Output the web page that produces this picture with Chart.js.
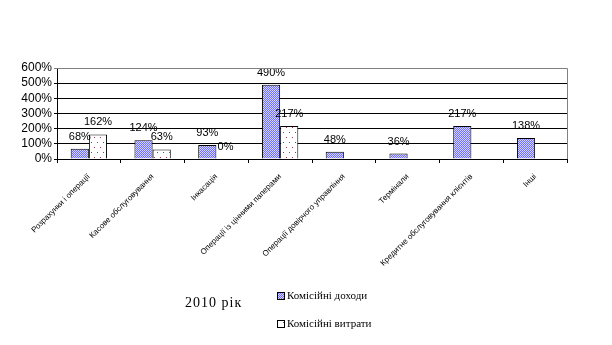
<!DOCTYPE html>
<html>
<head>
<meta charset="utf-8">
<script src="https://cdn.jsdelivr.net/npm/chart.js@4.4.1/dist/chart.umd.min.js"></script>
<style>
  html, body { margin: 0; padding: 0; background: #ffffff; }
  #wrap { position: relative; width: 612px; height: 345px; }
</style>
</head>
<body>
<div id="wrap"><canvas id="c" width="612" height="345"></canvas></div>
<script>
// Commission income vs. commission expenses by banking service, 2010
const categories = [
  'Розрахунки і операції',
  'Касове обслуговування',
  'Інкасація',
  'Операції із цінними паперами',
  'Операції довірчого управління',
  'Термінали',
  'Кредитне обслуговування клієнтів',
  'Інші'
];
const incomeValues  = [68, 124, 93, 490, 48, 36, 217, 138];
const expenseValues = [162, 63, 0, 217, null, null, null, null];
const seriesNames = ['Комісійні доходи', 'Комісійні витрати'];
const yearLabel = '2010 рік';
const yTicks = [0, 100, 200, 300, 400, 500, 600];

// Fill patterns: fine blue checker for income, dotted white for expenses
function checkerPattern() {
  const p = document.createElement('canvas');
  p.width = 2; p.height = 2;
  const g = p.getContext('2d');
  g.fillStyle = '#7070ff'; g.fillRect(0, 0, 2, 2);
  g.fillStyle = '#d4d4ff'; g.fillRect(0, 0, 1, 1); g.fillRect(1, 1, 1, 1);
  return g.createPattern(p, 'repeat');
}
function dotPattern() {
  const p = document.createElement('canvas');
  p.width = 6; p.height = 10;
  const g = p.getContext('2d');
  g.fillStyle = '#ffffff'; g.fillRect(0, 0, 6, 10);
  g.fillStyle = '#a03060'; g.fillRect(1, 2, 1, 1); g.fillRect(4, 7, 1, 1);
  return g.createPattern(p, 'repeat');
}
const incomeFill = checkerPattern();
const expenseFill = dotPattern();

// Percent labels above each bar
const valueLabels = {
  id: 'valueLabels',
  afterDatasetsDraw(chart) {
    const ctx = chart.ctx;
    ctx.save();
    ctx.font = '11px "Liberation Sans", Arial, sans-serif';
    ctx.fillStyle = '#000';
    ctx.textAlign = 'center';
    ctx.textBaseline = 'middle';
    chart.data.datasets.forEach((ds, i) => {
      chart.getDatasetMeta(i).data.forEach((bar, j) => {
        const v = ds.data[j];
        if (v === null || v === undefined) return;
        ctx.fillText(v + '%', bar.x, bar.y - 12);
      });
    });
    ctx.restore();
  }
};

// Grey frame on top/right of plot area, plus year caption and legend
const frameAndLegend = {
  id: 'frameAndLegend',
  afterDraw(chart) {
    const ctx = chart.ctx;
    const a = chart.chartArea;
    ctx.save();
    ctx.strokeStyle = '#808080';
    ctx.lineWidth = 1;
    ctx.beginPath();
    ctx.moveTo(a.left, a.top + 0.5);
    ctx.lineTo(a.right + 0.5, a.top + 0.5);
    ctx.lineTo(a.right + 0.5, a.bottom);
    ctx.stroke();

    ctx.fillStyle = '#000';
    ctx.textBaseline = 'middle';
    ctx.textAlign = 'left';
    ctx.font = '14px "Liberation Serif", "Times New Roman", serif';
    ctx.letterSpacing = '1px';
    ctx.fillText(yearLabel, 185, 303);
    ctx.letterSpacing = '0px';

    const fills = [incomeFill, expenseFill];
    const rows = [296, 324];
    ctx.font = '11px "Liberation Serif", "Times New Roman", serif';
    seriesNames.forEach((name, i) => {
      ctx.fillStyle = fills[i];
      ctx.fillRect(278, rows[i] - 3, 6, 6);
      ctx.strokeStyle = '#000';
      ctx.strokeRect(277.5, rows[i] - 3.5, 7, 7);
      ctx.fillStyle = '#000';
      ctx.fillText(name, 287, rows[i] + 0.5);
    });
    ctx.restore();
  }
};

new Chart(document.getElementById('c'), {
  type: 'bar',
  data: {
    labels: categories,
    datasets: [
      { label: seriesNames[0], data: incomeValues, backgroundColor: incomeFill,
        borderColor: '#000', borderWidth: 1, borderSkipped: 'bottom' },
      { label: seriesNames[1], data: expenseValues, backgroundColor: expenseFill,
        borderColor: '#000', borderWidth: 1, borderSkipped: 'bottom' }
    ]
  },
  options: {
    responsive: false,
    animation: false,
    devicePixelRatio: 1,
    layout: { padding: { top: 68, right: 45, left: 0, bottom: 0 } },
    categoryPercentage: 0.57,
    barPercentage: 1.0,
    plugins: { legend: { display: false }, tooltip: { enabled: false } },
    scales: {
      x: {
        grid: { offset: true, drawOnChartArea: false, drawTicks: true, tickLength: 4, color: '#000' },
        border: { color: '#000' },
        ticks: {
          autoSkip: false, minRotation: 45, maxRotation: 45, padding: 9,
          color: '#000',
          font: { family: '"Liberation Sans", Arial, sans-serif', size: 8 }
        },
        afterFit(scale) { scale.height = 186; }
      },
      y: {
        min: 0, max: 600,
        afterBuildTicks(scale) { scale.ticks = yTicks.map(v => ({ value: v })); },
        grid: {
          color: ctx => (ctx.tick && ctx.tick.value === 600 ? '#808080' : '#000'),
          tickLength: 3
        },
        border: { color: '#000' },
        ticks: {
          autoSkip: false,
          color: '#000', padding: 2,
          font: { family: '"Liberation Sans", Arial, sans-serif', size: 12 },
          callback: v => v + '%'
        },
        afterFit(scale) { scale.width = 57; }
      }
    }
  },
  plugins: [valueLabels, frameAndLegend]
});
</script>
</body>
</html>
